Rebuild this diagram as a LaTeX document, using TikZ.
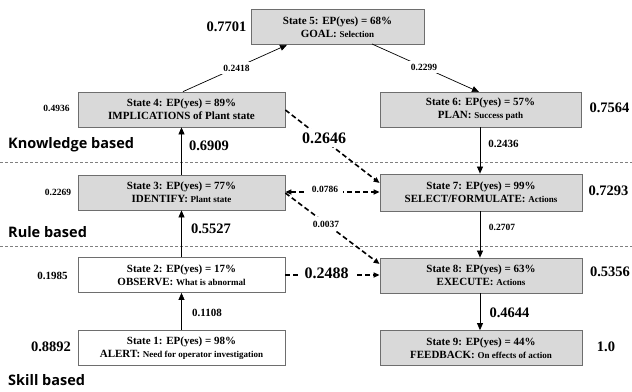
\documentclass[tikz,border=0pt]{standalone}
\usepackage{fontspec}
\setmainfont{Liberation Serif}
\newfontfamily\lblfont{Open Sans}
\usetikzlibrary{arrows.meta}
\definecolor{boxgray}{RGB}{217,217,217}
\definecolor{edgegray}{RGB}{110,110,110}
\tikzset{
  sbox/.style={draw=edgegray, line width=0.8pt, fill=boxgray, minimum height=35pt, align=center, inner sep=0pt, font=\bfseries\fontsize{11}{13}\selectfont},
  wbox/.style={sbox, fill=white},
  big/.style={font=\bfseries\fontsize{14.5}{16}\selectfont, inner sep=1pt},
  bigger/.style={font=\bfseries\fontsize{16}{18}\selectfont, inner sep=1pt, fill=white},
  mid/.style={font=\bfseries\fontsize{11}{13}\selectfont, inner sep=1pt},
  small/.style={font=\bfseries\fontsize{9.5}{11}\selectfont, inner sep=1pt},
  smallw/.style={small, fill=white, inner sep=3pt},
  solidarr/.style={draw=black, line width=0.7pt, -{Triangle[length=7pt,width=6pt]}},
  dasharr/.style={draw=black, line width=1.6pt, dash pattern=on 5pt off 3pt, -{Triangle[length=6pt,width=5pt]}},
  sep/.style={draw=gray, line width=0.6pt, dash pattern=on 3pt off 2pt},
  level/.style={font=\lblfont\bfseries\fontsize{14.5}{16}\selectfont, anchor=west, inner sep=0pt},
}
\newcommand{\sm}[1]{{\fontsize{9}{11}\selectfont #1}}
\begin{document}
\begin{tikzpicture}[x=1pt,y=-1pt]
\useasboundingbox (0,0) rectangle (632,391);
% separators
\draw[sep] (0,162) -- (632,162);
\draw[sep] (0,246) -- (632,246);
% level labels
\node[level] (lk) at (8,145) {Knowledge based};
\node[level] (lr) at (8,232) {Rule based};
\node[level] (ls) at (8,380) {Skill based};
% boxes
\node[sbox, minimum width=173pt] (s5) at (337.5,27) {State 5: EP(yes) = 68\%\\GOAL: \sm{Selection}};
\node[sbox, minimum width=207pt] (s4) at (181.5,109.5) {State 4: EP(yes) = 89\%\\IMPLICATIONS of Plant state};
\node[sbox, minimum width=201pt] (s6) at (480.5,109.5) {State 6: EP(yes) = 57\%\\PLAN: \sm{Success path}};
\node[sbox, minimum width=207pt] (s3) at (181.5,192.5) {State 3: EP(yes) = 77\%\\IDENTIFY: \sm{Plant state}};
\node[sbox, minimum width=202pt, minimum height=37pt] (s7) at (481,192.5) {State 7: EP(yes) = 99\%\\SELECT/FORMULATE: \sm{Actions}};
\node[wbox, minimum width=207pt] (s2) at (181.5,275) {State 2: EP(yes) = 17\%\\OBSERVE: \sm{What is abnormal}};
\node[sbox, minimum width=202pt] (s8) at (481,275.5) {State 8: EP(yes) = 63\%\\EXECUTE: \sm{Actions}};
\node[wbox, minimum width=207pt] (s1) at (181.5,348) {State 1: EP(yes) = 98\%\\ALERT: \sm{Need for operator investigation}};
\node[sbox, minimum width=202pt] (s9) at (481,348) {State 9: EP(yes) = 44\%\\FEEDBACK: \sm{On effects of action}};
% solid arrows
\coordinate (a4) at (183,109.5);
\draw[solidarr] (s4.north -| a4) -- (s5.south west -| 287,0) coordinate (e45);
\draw[solidarr] (372,44) coordinate (b56) -- (479,92) coordinate (e56);
\draw[solidarr] (s6.south -| 480,0) -- (s7.north -| 480,0);
\draw[solidarr] (s7.south -| 480,0) -- (s8.north -| 480,0);
\draw[solidarr] (s8.south -| 480,0) -- (s9.north -| 480,0);
\draw[solidarr] (s1.north) -- (s2.south);
\draw[solidarr] (s2.north) -- (s3.south);
\draw[solidarr] (s3.north) -- (s4.north |- s4.south);
% edge labels on diagonals
\node[smallw] (l2418) at (236.5,68) {0.2418};
\node[smallw] (l2299) at (424,67) {0.2299};
% dashed arrows
\draw[dasharr] (s4.east |- 0,110) -- (s7.west |- 0,183);
\node[bigger, inner sep=4pt] (l2646) at (324,138) {0.2646};
\draw[dasharr, {Triangle[length=6pt,width=5pt]}-{Triangle[length=6pt,width=5pt]}] (s3.east |- 0,192) -- (s7.west |- 0,192);
\node[smallw, inner sep=5pt] (l0786) at (325,189) {0.0786};
\draw[dasharr] (s3.east |- 0,193) -- (s8.west |- 0,264);
\node[smallw, inner sep=4pt] (l0037) at (326,224) {0.0037};
\draw[dasharr] (s2.east) -- (s8.west |- s2.east);
\node[bigger, inner sep=5pt] (l2488) at (326.5,273) {0.2488};
% numbers
\node[big] (n7701) at (226.5,27) {0.7701};
\node[big] (n7564) at (609.5,108) {0.7564};
\node[big] (n6909) at (209,146) {0.6909};
\node[mid] (n2436) at (503.5,144) {0.2436};
\node[small] (n4936) at (56.5,108) {0.4936};
\node[small] (n2269) at (58,192) {0.2269};
\node[big] (n7293) at (608.5,191) {0.7293};
\node[small] (n2707) at (502,227) {0.2707};
\node[big] (n5527) at (211,229) {0.5527};
\node[mid] (n1985) at (52.5,276) {0.1985};
\node[big] (n5356) at (610,272) {0.5356};
\node[mid] (n1108) at (207,313) {0.1108};
\node[big] (n4644) at (509.5,313) {0.4644};
\node[big] (n8892) at (51,347) {0.8892};
\node[big] (n10) at (606,347) {1.0};
\end{tikzpicture}
\end{document}
